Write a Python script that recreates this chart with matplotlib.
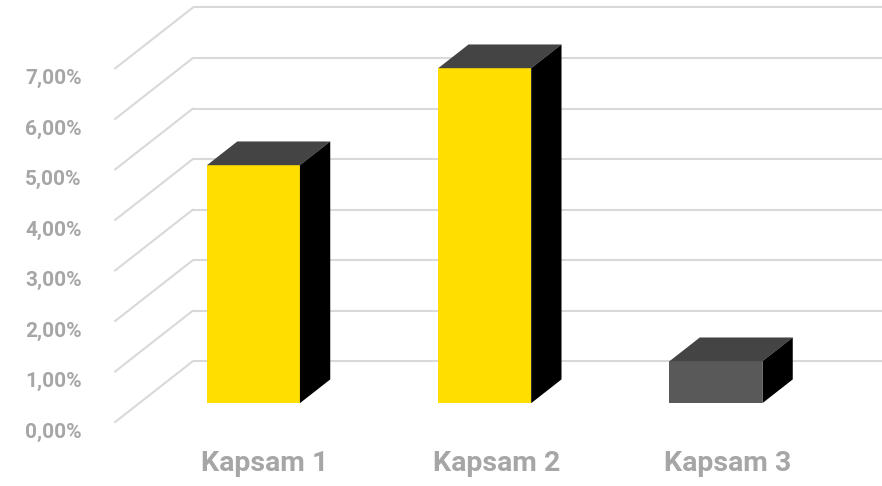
import matplotlib.pyplot as plt
from matplotlib.patches import Polygon

categories = ['Kapsam 1', 'Kapsam 2', 'Kapsam 3']
values = [4.71, 6.63, 0.83]          # percent
front_colors = ['#FFDE00', '#FFDE00', '#595959']
tick_values = [0, 1, 2, 3, 4, 5, 6, 7]
tick_labels = ['0,00%', '1,00%', '2,00%', '3,00%', '4,00%', '5,00%', '6,00%', '7,00%']

grid_color = '#D9D9D9'
label_color = '#A6A6A6'
top_color = '#444444'
side_color = '#000000'

fig = plt.figure(figsize=(8.82, 4.86), dpi=100)
ax = fig.add_axes([0, 0, 1, 1])
ax.set_xlim(-1.096, 2.718)
ax.set_ylim(-1.64, 7.98)
ax.axis('off')

# oblique depth: d=0 front of floor, d=1 back wall; bars sit between d0 and d1
DX, DY = 0.337, 1.208
d0, d1 = 0.311, 0.70
bar_w = 0.402

# gridlines: back wall + left wall
wall_back_x = -0.2616
for v in tick_values:
    xb, yb = wall_back_x, v + (1 - d0) * DY
    xf, yf = wall_back_x - DX, v - d0 * DY
    ax.plot([xb, 3.0], [yb, yb], color=grid_color, lw=1.5, zorder=1,
            solid_capstyle='butt')
    ax.plot([xf, xb], [yf, yb], color=grid_color, lw=1.5, zorder=1,
            solid_capstyle='round')

# y tick labels
for v, lab in zip(tick_values, tick_labels):
    ax.text(-0.742, v - d0 * DY - 0.2, lab, ha='right', va='center',
            fontsize=15, fontweight='bold', color=label_color,
            fontfamily='Roboto')

# bars: front face through ax.bar, top and side faces as polygons
xs = list(range(len(categories)))
ax.bar(xs, values, width=bar_w, bottom=0, color=front_colors,
       edgecolor='none', zorder=3)

bdx, bdy = (d1 - d0) * DX, (d1 - d0) * DY
for x, v in zip(xs, values):
    xl, xr = x - bar_w / 2, x + bar_w / 2
    top = Polygon([(xl, v), (xr, v), (xr + bdx, v + bdy), (xl + bdx, v + bdy)],
                  closed=True, facecolor=top_color, edgecolor='none', zorder=3)
    side = Polygon([(xr, 0), (xr, v), (xr + bdx, v + bdy), (xr + bdx, bdy)],
                   closed=True, facecolor=side_color, edgecolor='none', zorder=3)
    ax.add_patch(top)
    ax.add_patch(side)

# category labels
for x, cat in zip(xs, categories):
    ax.text(x + 0.05, -1.19, cat, ha='center', va='center', fontsize=20.5,
            fontweight='bold', color=label_color, fontfamily='Roboto')

fig.savefig('out.png', dpi=100, facecolor='white')
